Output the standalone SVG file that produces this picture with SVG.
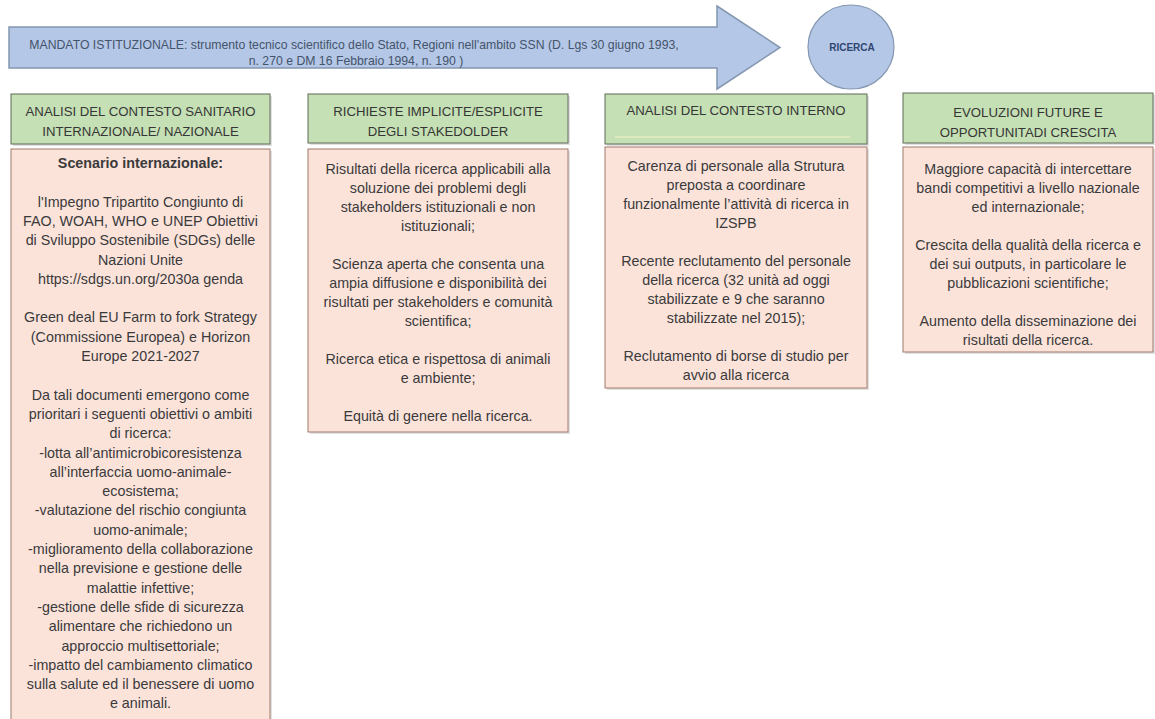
<svg xmlns="http://www.w3.org/2000/svg" width="1155" height="719" viewBox="0 0 1155 719">
  <style>
    .bg { fill: #ffffff; }
    .banner { fill: #b4c7e7; stroke: #8497b0; stroke-width: 1.5; }
    .banner-text { font-family: "Liberation Sans", Arial, sans-serif; font-size: 12.25px; fill: #44546a; text-anchor: middle; }
    .hub { fill: #b4c7e7; stroke: #8497b0; stroke-width: 1.2; }
    .hub-text { font-family: "Liberation Sans", Arial, sans-serif; font-size: 10px; font-weight: bold; fill: #2f4670; text-anchor: middle; }
    .head { fill: #c5e0b4; stroke: #5f6b58; stroke-width: 1; }
    .head-text { font-family: "Liberation Sans", Arial, sans-serif; font-size: 13.2px; fill: #363636; text-anchor: middle; }
    .body { fill: #fbe3da; stroke: #a07a6c; stroke-width: 1; }
    .shadow { fill: #bdbdbd; opacity: 0.45; }
    .txt { font-family: "Liberation Sans", Arial, sans-serif; font-size: 14.3px; fill: #3a3a3a; text-anchor: middle; }
    .bold { font-weight: bold; }
  </style>

  <rect class="bg" x="0" y="0" width="1155" height="719"/>

  <!-- connectors: the mandate banner arrow pointing to the research hub -->
  <g id="connectors">
    <path class="banner" d="M9,27 H717 V6 L780,47.5 L717,89 V68 H9 Z"/>
    <text class="banner-text" x="354" y="48.5">MANDATO ISTITUZIONALE: strumento  tecnico scientifico dello Stato, Regioni nell'ambito SSN (D. Lgs 30 giugno 1993,</text>
    <text class="banner-text" x="356" y="64.5">n. 270 e DM 16 Febbraio 1994, n. 190 )</text>
  </g>

  <!-- research hub -->
  <g id="ricerca">
    <ellipse class="hub" cx="851" cy="47" rx="43" ry="42"/>
    <text class="hub-text" x="852" y="51">RICERCA</text>
  </g>

  <!-- column 1: international / national health context -->
  <g id="contesto-sanitario">
    <rect class="shadow" x="13" y="96" width="259" height="50"/>
    <rect class="head" x="11" y="94" width="259" height="50"/>
    <text class="head-text" x="140.5" y="116">ANALISI DEL CONTESTO SANITARIO</text>
    <text class="head-text" x="140.5" y="136">INTERNAZIONALE/ NAZIONALE</text>
    <rect class="shadow" x="13" y="151" width="259" height="580"/>
    <rect class="body" x="11" y="149" width="259" height="580"/>
    <text class="txt bold" x="140.5" y="168">Scenario internazionale:</text>
    <text class="txt" x="140.5" y="206.6">l'Impegno Tripartito Congiunto di</text>
    <text class="txt" x="140.5" y="225.9">FAO, WOAH, WHO e UNEP Obiettivi</text>
    <text class="txt" x="140.5" y="245.2">di Sviluppo Sostenibile (SDGs) delle</text>
    <text class="txt" x="140.5" y="264.5">Nazioni Unite</text>
    <text class="txt" x="140.5" y="283.8">https://sdgs.un.org/2030a genda</text>
    <text class="txt" x="140.5" y="322.4">Green deal EU Farm to fork Strategy</text>
    <text class="txt" x="140.5" y="341.7">(Commissione Europea) e Horizon</text>
    <text class="txt" x="140.5" y="361">Europe 2021-2027</text>
    <text class="txt" x="140.5" y="399.6">Da tali documenti  emergono come</text>
    <text class="txt" x="140.5" y="418.9">prioritari  i seguenti obiettivi o ambiti</text>
    <text class="txt" x="140.5" y="438.2">di ricerca:</text>
    <text class="txt" x="140.5" y="457.5">-lotta all’antimicrobicoresistenza</text>
    <text class="txt" x="140.5" y="476.8">all’interfaccia uomo-animale-</text>
    <text class="txt" x="140.5" y="496.1">ecosistema;</text>
    <text class="txt" x="140.5" y="515.4">-valutazione del rischio congiunta</text>
    <text class="txt" x="140.5" y="534.7">uomo-animale;</text>
    <text class="txt" x="140.5" y="554">-miglioramento della collaborazione</text>
    <text class="txt" x="140.5" y="573.3">nella previsione e gestione delle</text>
    <text class="txt" x="140.5" y="592.6">malattie infettive;</text>
    <text class="txt" x="140.5" y="611.9">-gestione delle sfide di sicurezza</text>
    <text class="txt" x="140.5" y="631.2">alimentare che richiedono un</text>
    <text class="txt" x="140.5" y="650.5">approccio multisettoriale;</text>
    <text class="txt" x="140.5" y="669.8">-impatto del cambiamento climatico</text>
    <text class="txt" x="140.5" y="689.1">sulla salute ed il benessere di uomo</text>
    <text class="txt" x="140.5" y="708.4">e animali.</text>
  </g>

  <!-- column 2: stakeholder requests -->
  <g id="richieste-stakeholder">
    <rect class="shadow" x="310" y="96" width="260" height="49"/>
    <rect class="head" x="308" y="94" width="260" height="49"/>
    <text class="head-text" x="438" y="116">RICHIESTE IMPLICITE/ESPLICITE</text>
    <text class="head-text" x="438" y="136">DEGLI STAKEDOLDER</text>
    <rect class="shadow" x="310" y="151" width="260" height="283"/>
    <rect class="body" x="308" y="149" width="260" height="283"/>
    <text class="txt" x="438" y="174">Risultati della ricerca applicabili alla</text>
    <text class="txt" x="438" y="193">soluzione dei problemi  degli</text>
    <text class="txt" x="438" y="212">stakeholders istituzionali e non</text>
    <text class="txt" x="438" y="231">istituzionali;</text>
    <text class="txt" x="438" y="269">Scienza aperta che consenta una</text>
    <text class="txt" x="438" y="288">ampia diffusione e disponibilità dei</text>
    <text class="txt" x="438" y="307">risultati per stakeholders e comunità</text>
    <text class="txt" x="438" y="326">scientifica;</text>
    <text class="txt" x="438" y="364">Ricerca etica e rispettosa di animali</text>
    <text class="txt" x="438" y="383">e ambiente;</text>
    <text class="txt" x="438" y="421">Equità di genere nella ricerca.</text>
  </g>

  <!-- column 3: internal context -->
  <g id="contesto-interno">
    <rect class="shadow" x="607" y="96" width="262" height="50"/>
    <rect class="head" x="605" y="94" width="262" height="50"/>
    <line x1="615" y1="137" x2="850" y2="137" stroke="#dfe9bf" stroke-width="2"/>
    <text class="head-text" x="736" y="115">ANALISI DEL CONTESTO INTERNO</text>
    <rect class="shadow" x="607" y="149" width="262" height="241"/>
    <rect class="body" x="605" y="147" width="262" height="241"/>
    <text class="txt" x="736" y="171">Carenza di personale alla Strutura</text>
    <text class="txt" x="736" y="190">preposta a coordinare</text>
    <text class="txt" x="736" y="209">funzionalmente  l’attività di ricerca in</text>
    <text class="txt" x="736" y="228">IZSPB</text>
    <text class="txt" x="736" y="266">Recente reclutamento  del personale</text>
    <text class="txt" x="736" y="285">della ricerca (32 unità ad oggi</text>
    <text class="txt" x="736" y="304">stabilizzate e 9 che saranno</text>
    <text class="txt" x="736" y="323">stabilizzate nel 2015);</text>
    <text class="txt" x="736" y="361">Reclutamento di borse di studio per</text>
    <text class="txt" x="736" y="380">avvio alla ricerca</text>
  </g>

  <!-- column 4: future developments -->
  <g id="evoluzioni-future">
    <rect class="shadow" x="905" y="95" width="250" height="50"/>
    <rect class="head" x="903" y="93" width="250" height="50"/>
    <text class="head-text" x="1028" y="117">EVOLUZIONI FUTURE E</text>
    <text class="head-text" x="1028" y="137">OPPORTUNITADI CRESCITA</text>
    <rect class="shadow" x="905" y="149" width="250" height="205"/>
    <rect class="body" x="903" y="147" width="250" height="205"/>
    <text class="txt" x="1028" y="174">Maggiore capacità di intercettare</text>
    <text class="txt" x="1028" y="193">bandi competitivi a livello nazionale</text>
    <text class="txt" x="1028" y="212">ed internazionale;</text>
    <text class="txt" x="1028" y="250">Crescita della qualità della ricerca e</text>
    <text class="txt" x="1028" y="269">dei sui outputs, in particolare le</text>
    <text class="txt" x="1028" y="288">pubblicazioni scientifiche;</text>
    <text class="txt" x="1028" y="326">Aumento  della disseminazione dei</text>
    <text class="txt" x="1028" y="345">risultati della ricerca.</text>
  </g>
</svg>
